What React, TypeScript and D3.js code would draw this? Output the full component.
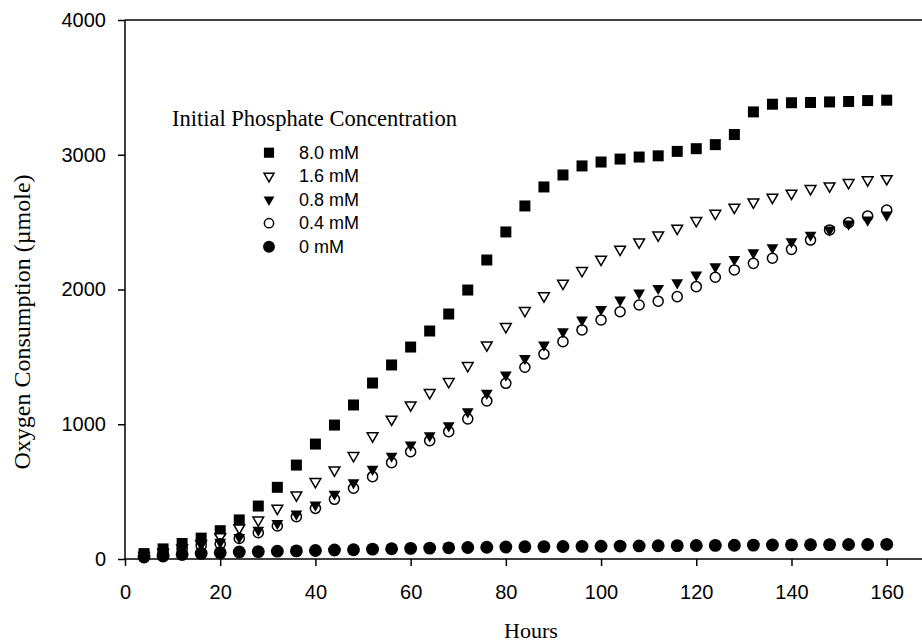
import React, { useEffect, useRef } from "react";
import * as d3 from "d3";

// hours sampled every 4 h
const hours = [4, 8, 12, 16, 20, 24, 28, 32, 36, 40, 44, 48, 52, 56, 60, 64, 68, 72, 76, 80,
  84, 88, 92, 96, 100, 104, 108, 112, 116, 120, 124, 128, 132, 136, 140, 144, 148, 152, 156, 160];

const mM80 = [40, 75, 115, 155, 210, 290, 393, 532, 697, 853, 994, 1143, 1306, 1440, 1573, 1692, 1818, 1996, 2219, 2427,
  2620, 2761, 2850, 2917, 2946, 2968, 2983, 2992, 3025, 3045, 3075, 3150, 3318, 3375, 3386, 3388, 3392, 3395, 3402, 3405];
const mM16 = [25, 50, 80, 115, 165, 230, 289, 376, 475, 574, 660, 767, 913, 1037, 1143, 1234, 1316, 1435, 1588, 1724,
  1843, 1952, 2046, 2140, 2224, 2298, 2352, 2404, 2454, 2511, 2565, 2610, 2649, 2684, 2714, 2748, 2768, 2793, 2813, 2822];
const mM08 = [28, 50, 78, 110, 125, 161, 215, 265, 334, 401, 482, 566, 666, 764, 846, 915, 990, 1093, 1230, 1366,
  1489, 1588, 1687, 1774, 1853, 1922, 1975, 2009, 2050, 2108, 2169, 2224, 2273, 2310, 2355, 2404, 2442, 2486, 2516, 2553];
const mM04 = [20, 45, 70, 100, 112, 153, 195, 245, 314, 376, 443, 525, 611, 715, 796, 878, 945, 1040, 1173, 1304,
  1423, 1521, 1613, 1700, 1774, 1835, 1885, 1913, 1947, 2021, 2091, 2145, 2194, 2232, 2298, 2367, 2442, 2496, 2545, 2590];
const mM0 = [15, 22, 33, 42, 46, 52, 55, 58, 60, 63, 67, 69, 73, 76, 79, 81, 83, 85, 87, 89,
  91, 92, 93, 94, 95, 96, 97, 98, 99, 100, 101, 102, 103, 104, 105, 106, 107, 108, 108, 109];

const seriesLabels = ["8.0 mM", "1.6 mM", "0.8 mM", "0.4 mM", "0 mM"];
const xTicks = [0, 20, 40, 60, 80, 100, 120, 140, 160];
const yTicks = [0, 1000, 2000, 3000, 4000];

const W = 922;
const H = 642;

const App = () => {
  const svgRef = useRef<SVGSVGElement | null>(null);

  useEffect(() => {
    const svg = d3.select(svgRef.current);
    svg.selectAll("*").remove();

    const x = d3.scaleLinear().domain([0, 170]).range([125, 125 + 170 * 4.7606]);
    const y = d3.scaleLinear().domain([0, 4000]).range([559, 20]);

    // series: values, symbol, rotation, fill, stroke
    const series = [
      { vals: mM80, type: d3.symbolSquare, size: 121, rot: 0, fill: "#000", stroke: "none" },
      { vals: mM16, type: d3.symbolTriangle, size: 50, rot: 180, fill: "#fff", stroke: "#000" },
      { vals: mM08, type: d3.symbolTriangle, size: 60, rot: 180, fill: "#000", stroke: "none" },
      { vals: mM04, type: d3.symbolCircle, size: 80, rot: 0, fill: "none", stroke: "#000" },
      { vals: mM0, type: d3.symbolCircle, size: 130, rot: 0, fill: "#000", stroke: "none" },
    ];

    // axes
    const yAxis = d3.axisLeft(y).tickValues(yTicks).tickFormat(d3.format("d"))
      .tickSize(7).tickSizeOuter(0).tickPadding(12);
    const xAxis = d3.axisBottom(x).tickValues(xTicks).tickFormat(d3.format("d"))
      .tickSize(7).tickSizeOuter(0).tickPadding(19);

    const gy = svg.append("g").attr("transform", "translate(125,0)").call(yAxis);
    const gx = svg.append("g").attr("transform", "translate(0,559)").call(xAxis);
    [gx, gy].forEach((g) => {
      g.select(".domain").remove();
      g.selectAll("line").attr("stroke", "#000").attr("stroke-width", 1.5);
      g.selectAll("text")
        .attr("fill", "#000")
        .style("font-family", "'Liberation Sans', Arial, sans-serif")
        .style("font-size", "20px");
    });

    // frame lines
    svg.append("line").attr("x1", 125).attr("x2", W).attr("y1", 559).attr("y2", 559)
      .attr("stroke", "#000").attr("stroke-width", 1.5);
    svg.append("line").attr("x1", 125).attr("x2", 125).attr("y1", 20).attr("y2", 559)
      .attr("stroke", "#000").attr("stroke-width", 1.5);
    svg.append("line").attr("x1", 125).attr("x2", W).attr("y1", 20).attr("y2", 20)
      .attr("stroke", "#000").attr("stroke-width", 1.5);

    // points
    series.forEach((s) => {
      const path = d3.symbol().type(s.type).size(s.size)();
      svg.append("g")
        .selectAll("path")
        .data(s.vals)
        .enter()
        .append("path")
        .attr("d", path)
        .attr("transform", (d, i) => `translate(${x(hours[i])},${y(d)}) rotate(${s.rot})`)
        .attr("fill", s.fill)
        .attr("stroke", s.stroke)
        .attr("stroke-width", 1.5);
    });

    // legend
    svg.append("text")
      .attr("x", 172).attr("y", 126)
      .style("font-family", "'Liberation Serif', 'Times New Roman', serif")
      .style("font-size", "22.5px")
      .text("Initial Phosphate Concentration");

    const leg = svg.append("g");
    series.forEach((s, i) => {
      const cy = 152.7 + i * 23.5;
      leg.append("path")
        .attr("d", d3.symbol().type(s.type).size(s.size * 0.85)())
        .attr("transform", `translate(269,${cy}) rotate(${s.rot})`)
        .attr("fill", s.fill)
        .attr("stroke", s.stroke)
        .attr("stroke-width", 1.5);
      leg.append("text")
        .attr("x", 299).attr("y", cy + 6)
        .style("font-family", "'Liberation Sans', Arial, sans-serif")
        .style("font-size", "18px")
        .text(seriesLabels[i]);
    });

    // axis titles
    svg.append("text")
      .attr("x", 531).attr("y", 638)
      .attr("text-anchor", "middle")
      .style("font-family", "'Liberation Serif', 'Times New Roman', serif")
      .style("font-size", "22px")
      .text("Hours");

    svg.append("text")
      .attr("transform", "translate(30,322) rotate(-90)")
      .attr("text-anchor", "middle")
      .style("font-family", "'Liberation Serif', 'Times New Roman', serif")
      .style("font-size", "24px")
      .text("Oxygen Consumption (\u00b5mole)");
  }, []);

  return (
    <svg
      ref={svgRef}
      width={W}
      height={H}
      style={{ position: "absolute", left: 0, top: 0, background: "#fff" }}
    />
  );
};

export default App;
